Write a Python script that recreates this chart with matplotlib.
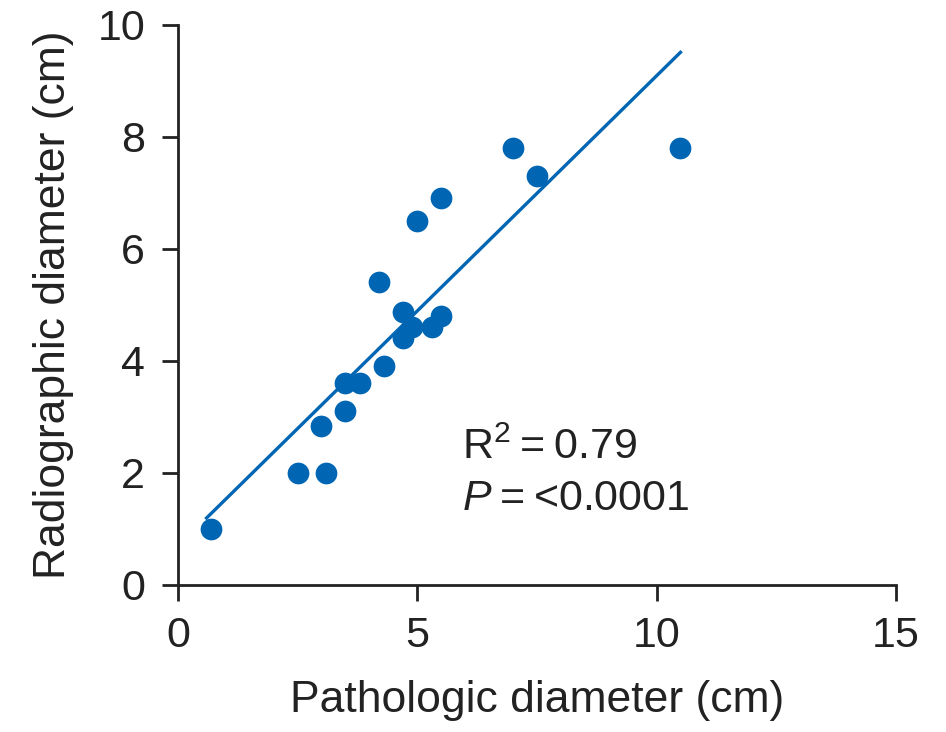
import numpy as np
import matplotlib
matplotlib.use('Agg')
import matplotlib.pyplot as plt

plt.rcParams['font.family'] = ['Liberation Sans', 'DejaVu Sans']
plt.rcParams['mathtext.fontset'] = 'custom'
plt.rcParams['mathtext.rm'] = 'Liberation Sans'
plt.rcParams['mathtext.it'] = 'Liberation Sans:italic'

# data
patho = [0.7, 2.5, 3.1, 3.0, 3.5, 3.5, 3.8, 4.3, 4.2, 4.7, 4.7, 4.9, 5.3, 5.5,
         5.0, 5.5, 7.0, 7.5, 10.5]
radio = [1.0, 2.0, 2.0, 2.83, 3.1, 3.6, 3.6, 3.9, 5.4, 4.4, 4.87, 4.6, 4.6, 4.8,
         6.5, 6.9, 7.8, 7.3, 7.8]
fit_slope = 0.84
fit_intercept = 0.69
fit_range = [0.6, 10.5]

blue = '#0066b3'

fig = plt.figure(figsize=(9.46, 7.32), dpi=100)
ax = fig.add_axes([0.188, 0.201, 0.759, 0.765])

ax.scatter(patho, radio, s=245, color=blue, zorder=3, linewidths=0)
fx = np.array(fit_range)
ax.plot(fx, fit_slope * fx + fit_intercept, color=blue, lw=2.4, zorder=2)

ax.set_xlim(0, 15)
ax.set_ylim(0, 10)
ax.set_xticks([0, 5, 10, 15])
ax.set_yticks([0, 2, 4, 6, 8, 10])
for s in ['top', 'right']:
    ax.spines[s].set_visible(False)
for s in ['left', 'bottom']:
    ax.spines[s].set_linewidth(2)
    ax.spines[s].set_color('#222222')
ax.tick_params(direction='out', length=11.5, width=2, colors='#222222',
               labelsize=31)
ax.tick_params(axis='x', pad=11)
ax.tick_params(axis='y', pad=12)
ax.set_xlabel('Pathologic diameter (cm)', fontsize=32, labelpad=17, color='#222222')
ax.set_ylabel('Radiographic diameter (cm)', fontsize=32, labelpad=17, color='#222222')

ax.text(5.93, 2.25, 'R$^2$\u2009=\u20090.79', fontsize=31, va='baseline',
        color='#222222')
ax.text(5.93, 1.34, '$P$\u2009=\u2009<0.0001', fontsize=31, va='baseline',
        color='#222222')

fig.savefig('out.png', dpi=100)
